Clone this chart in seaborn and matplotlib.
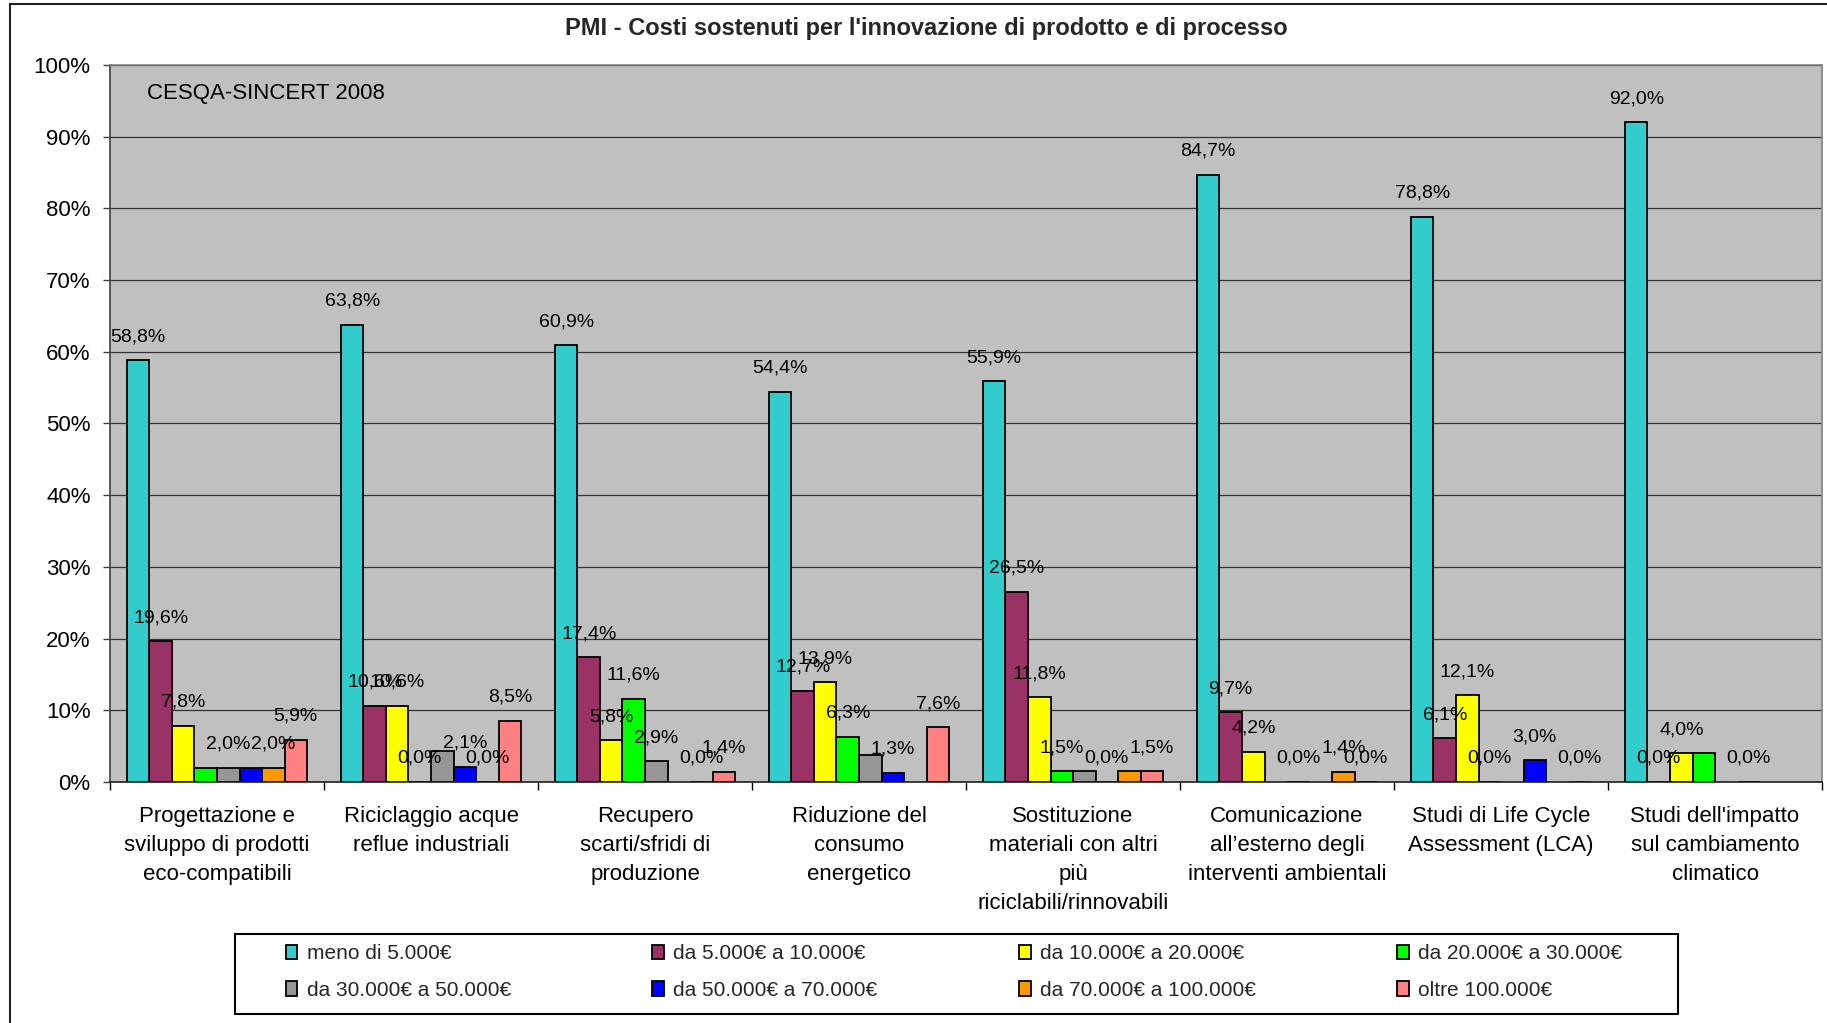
import numpy as np
import pandas as pd
import matplotlib
matplotlib.use("Agg")
import matplotlib.pyplot as plt
import matplotlib.ticker as mticker
from matplotlib.patches import Rectangle
from matplotlib.lines import Line2D
import seaborn as sns

# Style
sns.set_theme(style="white")
plt.rcParams['font.family'] = ['Liberation Sans', 'DejaVu Sans']

# Data (percentages; NaN = no bar and no label)
categorie = [
    "Progettazione e\nsviluppo di prodotti\neco-compatibili",
    "Riciclaggio acque\nreflue industriali",
    "Recupero\nscarti/sfridi di\nproduzione",
    "Riduzione del\nconsumo\nenergetico",
    "Sostituzione\nmateriali con altri\npiù\nriciclabili/rinnovabili",
    "Comunicazione\nall’esterno degli\ninterventi ambientali",
    "Studi di Life Cycle\nAssessment (LCA)",
    "Studi dell'impatto\nsul cambiamento\nclimatico",
]
fasce = [
    "meno di 5.000€",
    "da 5.000€ a 10.000€",
    "da 10.000€ a 20.000€",
    "da 20.000€ a 30.000€",
    "da 30.000€ a 50.000€",
    "da 50.000€ a 70.000€",
    "da 70.000€ a 100.000€",
    "oltre 100.000€",
]
nan = np.nan
meno_5k = [58.8, 63.8, 60.9, 54.4, 55.9, 84.7, 78.8, 92.0]
da_5k_10k = [19.6, 10.6, 17.4, 12.7, 26.5, 9.7, 6.1, 0.0]
da_10k_20k = [7.8, 10.6, 5.8, 13.9, 11.8, 4.2, 12.1, 4.0]
da_20k_30k = [2.0, 0.0, 11.6, 6.3, 1.5, nan, 0.0, 4.0]
da_30k_50k = [2.0, 4.3, 2.9, 3.8, 1.5, 0.0, nan, nan]
da_50k_70k = [2.0, 2.1, nan, 1.3, 0.0, nan, 3.0, 0.0]
da_70k_100k = [2.0, 0.0, 0.0, nan, 1.5, 1.4, nan, nan]
oltre_100k = [5.9, 8.5, 1.4, 7.6, 1.5, 0.0, 0.0, nan]
serie = [meno_5k, da_5k_10k, da_10k_20k, da_20k_30k,
         da_30k_50k, da_50k_70k, da_70k_100k, oltre_100k]

# labels not shown in the original (category index, series index)
etichette_nascoste = {(0, 3), (0, 5), (1, 4), (3, 4), (4, 4), (4, 6), (7, 3)}

colori = ["#33CCCC", "#993366", "#FFFF00", "#00FF00",
          "#969696", "#0000FF", "#FF9900", "#FF8080"]

rows = []
for fascia, valori in zip(fasce, serie):
    for cat, v in zip(categorie, valori):
        rows.append({"categoria": cat, "fascia": fascia, "valore": v})
df = pd.DataFrame(rows).dropna()

fig = plt.figure(figsize=(18.27, 10.23), dpi=100)
ax = fig.add_axes([0.0602, 0.2356, 0.9371, 0.7009])
ax.set_facecolor("#C0C0C0")

bar_width = 8 / 9.5
sns.barplot(data=df, x="categoria", y="valore", hue="fascia",
            order=categorie, hue_order=fasce, palette=colori,
            width=bar_width, edgecolor="black", linewidth=1.3,
            errorbar=None, saturation=1, ax=ax)

ax.set_xlim(-0.5, len(categorie) - 0.5)
ax.set_ylim(0, 100)
ax.yaxis.set_major_locator(mticker.MultipleLocator(10))
ax.yaxis.set_major_formatter(mticker.FuncFormatter(lambda v, p: f"{int(round(v))}%"))
ax.grid(axis="y", color="#333333", linewidth=0.9)
ax.set_axisbelow(True)
ax.set_xlabel("")
ax.set_ylabel("")

# spines
for s in ["top", "right"]:
    ax.spines[s].set_color("#808080")
    ax.spines[s].set_linewidth(1.2)
ax.spines["left"].set_color("#404040")
ax.spines["bottom"].set_color("#202020")
ax.spines["left"].set_linewidth(1.2)
ax.spines["bottom"].set_linewidth(1.2)

# ticks
ax.tick_params(axis="y", which="major", left=True, length=5, width=1,
               color="#404040", pad=9, labelsize=16, labelcolor="black")
ax.set_xticks(range(len(categorie)))
ax.set_xticklabels(categorie, linespacing=1.5, va="top")
ax.tick_params(axis="x", which="major", length=0, pad=17, labelsize=16,
               labelcolor="black")
ax.xaxis.set_minor_locator(mticker.FixedLocator(np.arange(-0.5, len(categorie), 1)))
ax.tick_params(axis="x", which="minor", bottom=True, length=6, width=1, color="black")

# data labels
for si, cont in enumerate(ax.containers):
    for bar in cont:
        h = bar.get_height()
        if np.isnan(h):
            continue
        xc = bar.get_x() + bar.get_width() / 2
        ci = int(round(xc))
        if (ci, si) in etichette_nascoste:
            continue
        ax.annotate(f"{h:.1f}%".replace(".", ","), (xc, h),
                    xytext=(0, 17), textcoords="offset points",
                    ha="center", va="center", fontsize=14, color="black")

ax.text(0.0216, 0.9596, "CESQA-SINCERT 2008", transform=ax.transAxes,
        ha="left", va="center", fontsize=16, color="black")

fig.text(0.5068, 0.9726,
         "PMI - Costi sostenuti per l'innovazione di prodotto e di processo",
         ha="center", va="center", fontsize=17, fontweight="bold")

# legend (row-major order)
handles, labels = ax.get_legend_handles_labels()
ax.legend_.remove()
ordine = [0, 4, 1, 5, 2, 6, 3, 7]
fig.legend([handles[i] for i in ordine], [labels[i] for i in ordine],
           ncol=4, loc="center", bbox_to_anchor=(0.5222, 0.0498),
           frameon=False, fontsize=15, handlelength=0.55, handleheight=0.7,
           handletextpad=0.45, columnspacing=6.8, labelspacing=0.85)
fig.patches.append(Rectangle((0.1286, 0.0088), 0.7899, 0.0785,
                             transform=fig.transFigure, fill=False,
                             edgecolor="black", linewidth=1.5))

# outer chart border (left and top)
fig.lines.append(Line2D([0.0055, 0.0055], [0, 0.996], transform=fig.transFigure,
                        color="#202020", linewidth=1.5))
fig.lines.append(Line2D([0.0055, 1], [0.996, 0.996], transform=fig.transFigure,
                        color="#202020", linewidth=1.5))

fig.savefig("out.png", dpi=100)
